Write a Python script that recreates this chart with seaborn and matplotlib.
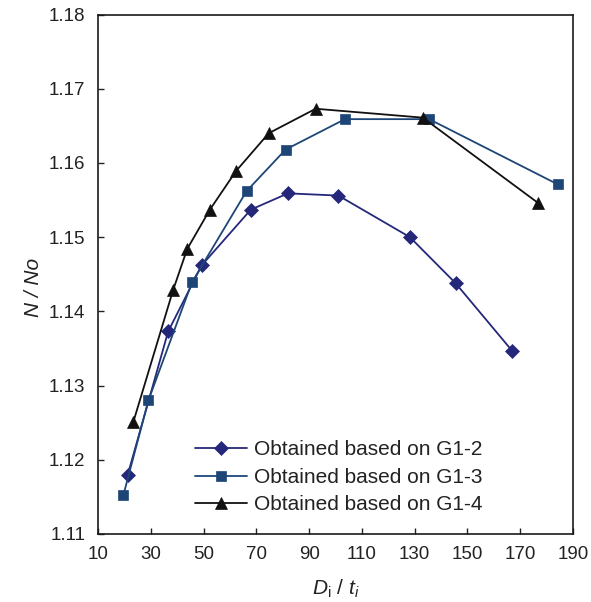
import matplotlib
matplotlib.use("Agg")
import matplotlib.pyplot as plt
from matplotlib.ticker import FormatStrFormatter
import seaborn as sns

# values
g12_x = [21.2, 36.6, 49.3, 67.9, 82.0, 101.1, 128.2, 145.5, 166.9]
g12_y = [1.1179, 1.1373, 1.1462, 1.1537, 1.1559, 1.1556, 1.1500, 1.1438, 1.1347]

g13_x = [19.6, 29.1, 45.6, 66.3, 81.1, 103.6, 135.5, 184.3]
g13_y = [1.1152, 1.1280, 1.1439, 1.1562, 1.1618, 1.1659, 1.1659, 1.1571]

g14_x = [23.4, 38.5, 43.8, 52.4, 62.3, 74.7, 92.5, 133.1, 176.8]
g14_y = [1.1251, 1.1429, 1.1484, 1.1537, 1.1589, 1.1640, 1.1673, 1.1661, 1.1546]

labels = ["Obtained based on G1-2", "Obtained based on G1-3", "Obtained based on G1-4"]
x_ticks = list(range(10, 191, 20))
y_ticks = [1.11, 1.12, 1.13, 1.14, 1.15, 1.16, 1.17, 1.18]

sns.set_theme(style="white")
plt.rcParams["font.family"] = ["Liberation Sans", "DejaVu Sans"]
plt.rcParams["mathtext.fontset"] = "custom"
plt.rcParams["mathtext.rm"] = "Liberation Sans"
plt.rcParams["mathtext.it"] = "Liberation Sans:italic"

fig = plt.figure(figsize=(5.91, 6.02), dpi=100)
ax = fig.add_axes([0.1658, 0.1130, 0.8037, 0.8629])

series = [
    (g12_x, g12_y, "#25287a", "D", 7.5),
    (g13_x, g13_y, "#1d4677", "s", 6.5),
    (g14_x, g14_y, "#111111", "^", 8),
]
for (xs, ys, col, mk, ms), lab in zip(series, labels):
    sns.lineplot(x=xs, y=ys, color=col, marker=mk, markersize=ms,
                 markeredgecolor=col, markeredgewidth=0.5, linewidth=1.3,
                 label=lab, sort=False, ax=ax)

ax.set_xlim(10, 190)
ax.set_ylim(1.11, 1.18)
ax.set_xticks(x_ticks)
ax.set_yticks(y_ticks)
ax.yaxis.set_major_formatter(FormatStrFormatter("%.2f"))
ax.tick_params(direction="in", length=4, width=1, pad=9, labelsize=13.5,
               colors="#222222", bottom=True, left=True, top=False, right=False)
for sp in ax.spines.values():
    sp.set_color("#1a1a1a")
    sp.set_linewidth(1.2)

ax.set_xlabel(r"$\mathit{D}_{\mathrm{i}}$ / $\mathit{t}_{\mathit{i}}$", fontsize=15, color="#222222")
ax.set_ylabel("N / No", fontsize=15, fontstyle="italic", color="#222222")
ax.xaxis.set_label_coords(0.5, -0.085)
ax.yaxis.set_label_coords(-0.115, 0.474)

handles, labs = ax.get_legend_handles_labels()
ax.legend(handles, labs, loc="upper left", bbox_to_anchor=(0.204, 0.18),
          frameon=False, fontsize=15, borderpad=0, borderaxespad=0,
          handlelength=2.5, handletextpad=0.35, labelspacing=0.4,
          labelcolor="#222222")

fig.savefig("out.png", dpi=100)
